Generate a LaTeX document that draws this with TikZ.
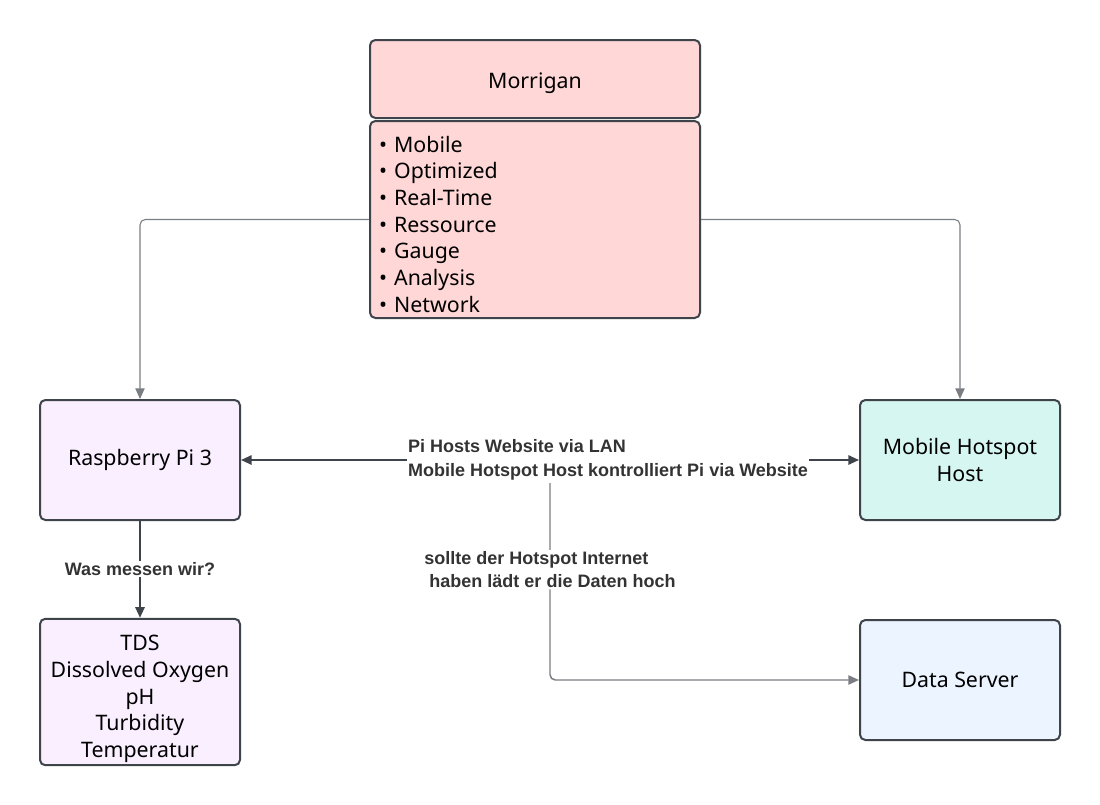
\documentclass[tikz,border=0pt]{standalone}
\usepackage{fontspec}
\setmainfont{Noto Sans}
\newfontfamily\lblfont{Liberation Sans}
\usetikzlibrary{arrows.meta}

\definecolor{boxline}{HTML}{3F434A}
\definecolor{morrpink}{HTML}{FFD7D7}
\definecolor{pilila}{HTML}{F9EFFF}
\definecolor{hotmint}{HTML}{D6F7F1}
\definecolor{srvblue}{HTML}{ECF4FF}
\definecolor{lblgray}{HTML}{333333}
\definecolor{feedgray}{HTML}{7A7D82}

\newcommand{\pxscl}{0.75pt}
\newcommand{\cpx}[1]{#1*\pxscl}
\newcommand{\cpy}[1]{-#1*\pxscl}
\newcommand{\topstrut}[1]{\rule{0pt}{#1}}
\newcommand{\bx}{\node[rectangle, rounded corners=4pt, draw=boxline, line width=1.5pt,
    minimum width=\cpx{200}, minimum height=\cpx{120}, align=center, inner sep=2pt,
    font=\fontsize{16}{20}\selectfont]}

\tikzset{
    tip/.style={-{Triangle[length=8pt,width=7pt]}},
    link/.style={draw=boxline, line width=1.4pt},
    feed/.style={draw=feedgray, line width=0.8pt, rounded corners=4pt},
    upl/.style={draw=feedgray, line width=1.1pt, rounded corners=4pt},
    lbl/.style={fill=white, text=lblgray, align=left, inner sep=1pt,
        font=\lblfont\fontsize{13.5}{17.5}\selectfont\bfseries}
}

\begin{document}
\begin{tikzpicture}
    \useasboundingbox (0,0) rectangle (\cpx{1100}, \cpy{804});

    % Morrigan
    \bx[fill=morrpink, minimum width=\cpx{330}, minimum height=\cpx{78}] (morr) at (\cpx{535}, \cpy{79}) {\topstrut{18pt}Morrigan};
    \bx[fill=morrpink, minimum width=\cpx{330}, minimum height=\cpx{197}, text width=\cpx{312}, align=left]
        (morrlist) at (\cpx{535}, \cpy{219.5})
        {\topstrut{19pt}• Mobile\\• Optimized\\• Real-Time\\• Ressource\\• Gauge\\• Analysis\\• Network};

    \bx[fill=pilila] (rpi) at (\cpx{140}, \cpy{460}) {Raspberry Pi 3};
    \bx[fill=hotmint] (hotspot) at (\cpx{960}, \cpy{460}) {Mobile Hotspot\\Host};
    \bx[fill=pilila, minimum height=\cpx{144}] (sensors) at (\cpx{140}, \cpy{692})
        {\topstrut{22pt}TDS\\Dissolved Oxygen\\pH\\Turbidity\\Temperatur};
    \bx[fill=srvblue] (datasrv) at (\cpx{960}, \cpy{680}) {Data Server};

    \coordinate (tap) at (\cpx{550}, \cpy{483});

    \draw[feed, tip] (morrlist.west) -| (rpi.north);
    \draw[feed, tip] (morrlist.east) -| (hotspot.north);

    \draw[upl, tip] (tap) |- node[lbl, pos=0.22] (netlbl) {sollte der Hotspot Internet\\\ haben lädt er die Daten hoch} (datasrv);
    \draw[link, {Triangle[length=8pt,width=7pt]}-{Triangle[length=8pt,width=7pt]}]
        (rpi) -- node[lbl, pos=0.594] (lanlbl) {Pi Hosts Website via LAN\\Mobile Hotspot Host kontrolliert Pi via Website} (hotspot);
    \draw[link, tip] (rpi) -- node[lbl] (msrlbl) {Was messen wir?} (sensors);
\end{tikzpicture}
\end{document}
